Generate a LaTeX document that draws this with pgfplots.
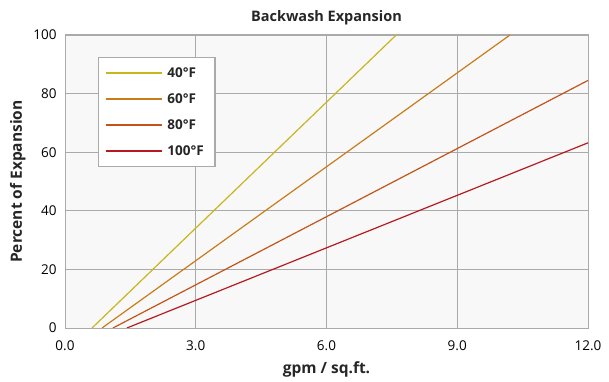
\documentclass[border=0pt]{standalone}
\usepackage{fontspec}
\setmainfont{Open Sans}
\usepackage{pgfplots}
\pgfplotsset{compat=1.18}
\definecolor{c40}{RGB}{200,182,30}
\definecolor{c60}{RGB}{200,124,26}
\definecolor{c80}{RGB}{192,84,26}
\definecolor{c100}{RGB}{182,26,30}
\definecolor{bgc}{RGB}{248,248,248}
\definecolor{gridc}{RGB}{170,170,170}
\begin{document}
\begin{tikzpicture}
\begin{axis}[
  at={(65bp,54bp)}, anchor=south west,
  scale only axis, width=523bp, height=293bp,
  xmin=0, xmax=12, ymin=0, ymax=100,
  xtick={0,3,6,9,12}, ytick={0,20,40,60,80,100},
  xticklabel style={/pgf/number format/.cd,fixed,fixed zerofill,precision=1},
  /pgf/number format/assume math mode=true,
  tick label style={font=\fontsize{13.5bp}{14bp}\selectfont, text=black},
  major tick length=0pt,
  grid=major, major grid style={gridc, line width=0.6pt},
  axis line style={gridc, line width=1pt},
  axis background/.style={fill=bgc},
  xlabel={gpm / sq.ft.}, ylabel={Percent of Expansion},
  label style={font=\fontsize{15.5bp}{17bp}\selectfont\bfseries, text=black!85},
  xlabel style={yshift=-4bp},
  ylabel style={yshift=1bp},
  title={Backwash Expansion},
  title style={font=\fontsize{14.5bp}{16bp}\selectfont\bfseries, text=black!85, yshift=1bp},
  xticklabel shift=9bp,
  yticklabel shift=5bp,
  legend style={at={(0.063,0.925)}, anchor=north west, draw=gridc, line width=1.5pt, fill=white,
    font=\fontsize{13.5bp}{15bp}\selectfont\bfseries, text=black!85, inner xsep=6bp, inner ysep=8bp, row sep=10.6bp,
    nodes={inner xsep=5bp}},
  legend cell align=left,
  legend image code/.code={\draw[#1] (0bp,0bp) -- (56bp,0bp);},
  clip=true,
]
\addplot[c40, line width=1.2pt, forget plot] coordinates {(0.62,0) (7.6,100)};
\addplot[c60, line width=1.2pt, forget plot] coordinates {(0.85,0) (10.21,100)};
\addplot[c80, line width=1.2pt, forget plot] coordinates {(1.10,0) (12,84.5)};
\addplot[c100, line width=1.2pt, forget plot] coordinates {(1.42,0) (12,63.2)};
\addlegendimage{draw=c40, line width=1.8pt}
\addlegendentry{40°F}
\addlegendimage{draw=c60, line width=1.8pt}
\addlegendentry{60°F}
\addlegendimage{draw=c80, line width=1.8pt}
\addlegendentry{80°F}
\addlegendimage{draw=c100, line width=1.8pt}
\addlegendentry{100°F}
\end{axis}
\pgfresetboundingbox
\path[use as bounding box] (0,0) rectangle (609bp,382bp);
\end{tikzpicture}
\end{document}
